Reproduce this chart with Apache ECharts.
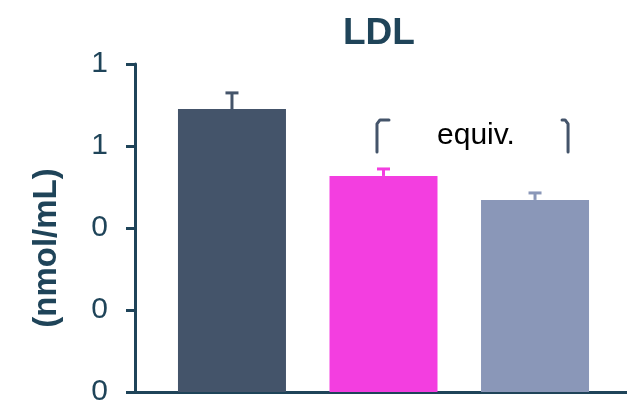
<!DOCTYPE html>
<html>
<head>
<meta charset="utf-8">
<style>
  html, body { margin: 0; padding: 0; background: #fff; }
  #chart { width: 627px; height: 404px; }
</style>
<script src="https://cdn.jsdelivr.net/npm/echarts@6/dist/echarts.min.js"></script>
</head>
<body>
<div id="chart"></div>
<script>
// groups sit at x = 1, 2, 3 on a value axis
const groupX = [1, 2, 3]
const means = [1.38, 1.054, 0.937]
const errHigh = [1.459, 1.088, 0.971]
const barColors = ['#44546a', '#f33ee0', '#8a97b8']
const yTicks = { min: 0, max: 1.6, interval: 0.4 }
// bracket annotation: [x, yLow, yHigh, hook direction]
const brackets = [
  [1.957, 1.171, 1.327, 1],
  [3.218, 1.171, 1.327, -1]
]
const noteText = 'equiv.'
const notePos = [2.61, 1.25]

const axisColor = '#1f4459'
const font = 'Liberation Sans, Arial, sans-serif'

const chart = echarts.init(document.getElementById('chart'))
const option = {
  animation: false,
  title: {
    text: 'LDL',
    left: 338,
    top: 10,
    textStyle: { color: axisColor, fontSize: 37, fontWeight: 'bold', fontFamily: font }
  },
  grid: { left: 135, right: 0, top: 64, bottom: 12, outerBoundsMode: 'none' },
  xAxis: {
    type: 'value',
    min: 0.36,
    max: 3.607,
    axisLine: { show: true, lineStyle: { color: axisColor, width: 3 } },
    axisTick: { show: false },
    axisLabel: { show: false },
    splitLine: { show: false }
  },
  yAxis: {
    type: 'value',
    min: yTicks.min,
    max: yTicks.max,
    interval: yTicks.interval,
    name: '(nmol/mL)',
    nameLocation: 'middle',
    nameGap: 72,
    nameTextStyle: { color: axisColor, fontSize: 33, fontWeight: 'bold', fontFamily: font, padding: [0, 40, 0, 0] },
    axisLine: { show: true, lineStyle: { color: axisColor, width: 3 } },
    axisTick: { show: true, length: 9, lineStyle: { color: axisColor, width: 3 } },
    axisLabel: {
      color: axisColor,
      fontSize: 30,
      fontFamily: font,
      margin: 27,
      formatter: v => String(Math.floor(v + 1e-9))
    },
    splitLine: { show: false }
  },
  series: [
    {
      type: 'bar',
      barWidth: 108,
      data: groupX.map((x, i) => ({ value: [x, means[i]], itemStyle: { color: barColors[i] } }))
    },
    {
      type: 'custom',
      z: 3,
      data: groupX.map((x, i) => [x, means[i], errHigh[i]]),
      renderItem: function (params, api) {
        const top = api.coord([api.value(0), api.value(1)])
        const high = api.coord([api.value(0), api.value(2)])
        const c = barColors[params.dataIndex]
        return {
          type: 'group',
          children: [
            { type: 'line', shape: { x1: top[0], y1: top[1], x2: high[0], y2: high[1] }, style: { stroke: c, lineWidth: 3 } },
            { type: 'line', shape: { x1: high[0] - 6.5, y1: high[1], x2: high[0] + 6.5, y2: high[1] }, style: { stroke: c, lineWidth: 3 } }
          ]
        }
      }
    },
    {
      type: 'custom',
      data: brackets,
      renderItem: function (params, api) {
        const lo = api.coord([api.value(0), api.value(1)])
        const hi = api.coord([api.value(0), api.value(2)])
        const d = api.value(3)
        const hook = d > 0 ? 12 : 6
        return {
          type: 'polyline',
          shape: {
            points: [
              [lo[0], lo[1]],
              [hi[0], hi[1] + 4],
              [hi[0] + d * 3, hi[1]],
              [hi[0] + d * hook, hi[1]]
            ]
          },
          style: { stroke: '#44546a', lineWidth: 3, fill: null, lineJoin: 'round', lineCap: 'round' }
        }
      }
    },
    {
      type: 'custom',
      data: [notePos],
      renderItem: function (params, api) {
        const p = api.coord([api.value(0), api.value(1)])
        return {
          type: 'text',
          x: p[0],
          y: p[1],
          style: { text: noteText, fill: '#000', fontSize: 30, fontFamily: font, align: 'center', verticalAlign: 'middle' }
        }
      }
    }
  ]
}
chart.setOption(option)
</script>
</body>
</html>
